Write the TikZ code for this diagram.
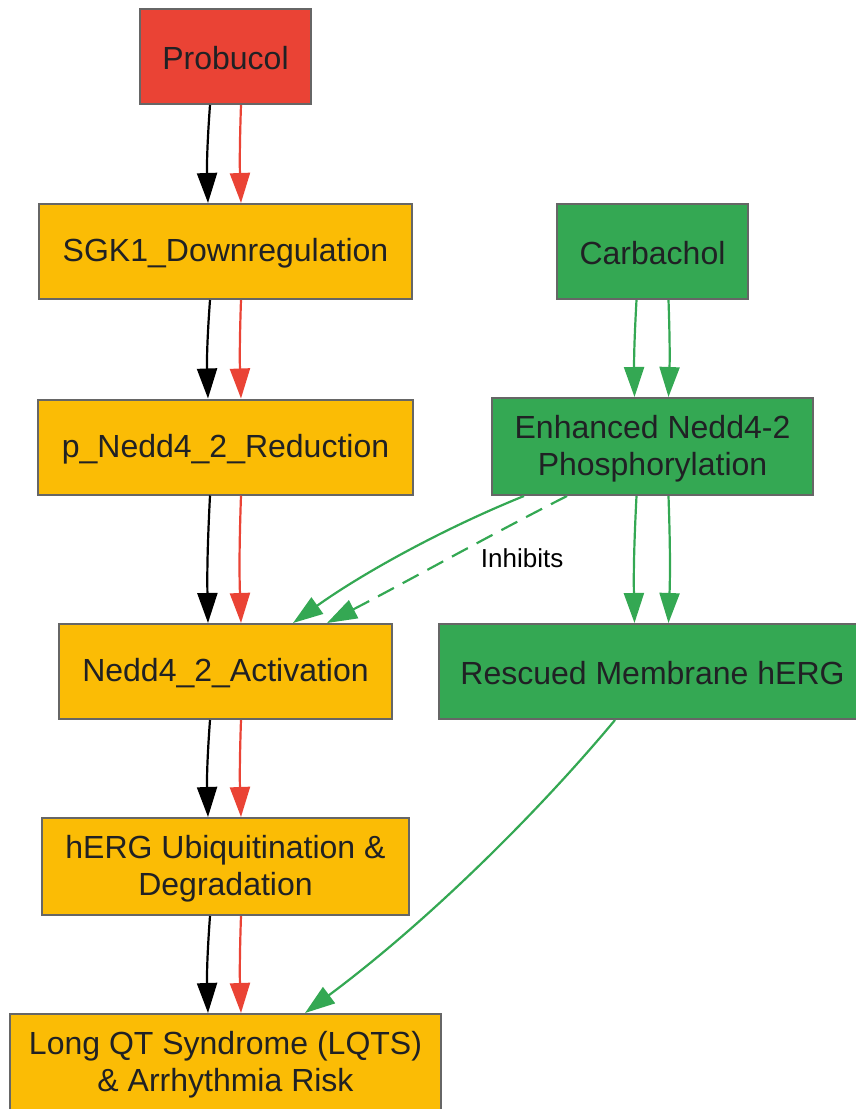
\documentclass[tikz,border=0pt]{standalone}
\usepackage{fontspec}
\setmainfont{Liberation Sans}
\usepackage{xcolor}
\usetikzlibrary{arrows.meta,calc}

\definecolor{pred}{HTML}{EA4335}
\definecolor{pyellow}{HTML}{FBBC05}
\definecolor{pgreen}{HTML}{34A853}
\definecolor{pborder}{HTML}{666666}
\definecolor{ptext}{HTML}{202124}

\begin{document}
\begin{tikzpicture}[x=0.5pt,y=-0.5pt,
  box/.style={draw=pborder,line width=1pt,text=ptext,align=center,
    font=\fontsize{16}{18.5}\selectfont,inner sep=0pt,minimum height=47.5pt,
    execute at begin node={\rule{0pt}{13.5pt}},
    execute at end node={\rule[-1pt]{0pt}{1pt}}},
  twoline/.style={text depth=1.2pt,minimum height=48.5pt},
  redbox/.style={box,fill=pred},
  yelbox/.style={box,fill=pyellow},
  grnbox/.style={box,fill=pgreen},
  edge/.style={line width=1.1pt,-{Triangle[width=10pt,length=15pt]}},
  blk/.style={edge,black},
  rd/.style={edge,pred},
  gr/.style={edge,pgreen}]

\useasboundingbox (0,0) rectangle (856,1109);

% left column
\node[redbox,minimum width=85.5pt] (prob) at (225.5,56.5) {Probucol};
\node[yelbox,minimum width=186.5pt] (sgk) at (225.5,251.5) {SGK1\_Downregulation};
\node[yelbox,minimum width=187.5pt] (pned) at (225.5,447) {p\_Nedd4\_2\_Reduction};
\node[yelbox,minimum width=166.5pt] (act) at (225.5,671.5) {Nedd4\_2\_Activation};
\node[yelbox,twoline,minimum width=183.5pt] (ubi) at (225.5,866.5) {hERG Ubiquitination \&\\Degradation};
\node[yelbox,twoline,minimum width=215.5pt] (lqts) at (225.5,1062.5) {Long QT Syndrome (LQTS)\\\& Arrhythmia Risk};

% right column
\node[grnbox,minimum width=95.5pt] (carb) at (652.5,251.5) {Carbachol};
\node[grnbox,twoline,minimum width=160.5pt] (enh) at (652.5,446.5) {Enhanced Nedd4-2\\Phosphorylation};
\node[grnbox,minimum width=213.5pt] (resc) at (652.5,671.5) {Rescued Membrane hERG};

% probucol chain
\draw[blk] ($(prob.south)+(-15.5,0)$) to[bend right=3] ($(sgk.north)+(-17.5,0)$);
\draw[rd] ($(prob.south)+(15.5,0)$) to[bend right=2] ($(sgk.north)+(15.5,0)$);
\draw[blk] ($(sgk.south)+(-15.5,0)$) to[bend right=3] ($(pned.north)+(-17.5,0)$);
\draw[rd] ($(sgk.south)+(15.5,0)$) to[bend right=2] ($(pned.north)+(15.5,0)$);
\draw[blk] ($(pned.south)+(-15.5,0)$) to[bend right=2] ($(act.north)+(-17.5,0)$);
\draw[rd] ($(pned.south)+(15.5,0)$) to[bend right=2] ($(act.north)+(15.5,0)$);
\draw[blk] ($(act.south)+(-15.5,0)$) to[bend right=3] ($(ubi.north)+(-17.5,0)$);
\draw[rd] ($(act.south)+(15.5,0)$) to[bend right=2] ($(ubi.north)+(15.5,0)$);
\draw[blk] ($(ubi.south)+(-15.5,0)$) to[bend right=3] ($(lqts.north)+(-17.5,0)$);
\draw[rd] ($(ubi.south)+(15.5,0)$) to[bend right=2] ($(lqts.north)+(15.5,0)$);

% carbachol chain
\draw[gr] ($(carb.south)+(-16,0)$) to[bend right=2] ($(enh.north)+(-18,0)$);
\draw[gr] ($(carb.south)+(16,0)$) to[bend left=2] ($(enh.north)+(16,0)$);
\draw[gr] ($(enh.south)+(-16,0)$) to[bend right=2] ($(resc.north)+(-18,0)$);
\draw[gr] ($(enh.south)+(16,0)$) to[bend left=2] ($(resc.north)+(16,0)$);

\draw[gr] ($(enh.south)+(-128.5,0)$) .. controls (440,530) and (360,575) .. ($(act.north)+(67.5,0)$);
\draw[gr,dashed,dash pattern=on 9pt off 5pt] ($(enh.south)+(-85.5,0)$) .. controls (490,535) and (410,580) .. ($(act.north)+(101.5,0)$)
  node[pos=0.45,right=6pt,yshift=-3.5pt,text=black,font=\fontsize{13}{15}\selectfont] (inh) {Inhibits};

\draw[gr] ($(resc.south)+(-37.5,0)$) .. controls (540,810) and (430,920) .. ($(lqts.north)+(79.5,0)$);

\end{tikzpicture}
\end{document}
